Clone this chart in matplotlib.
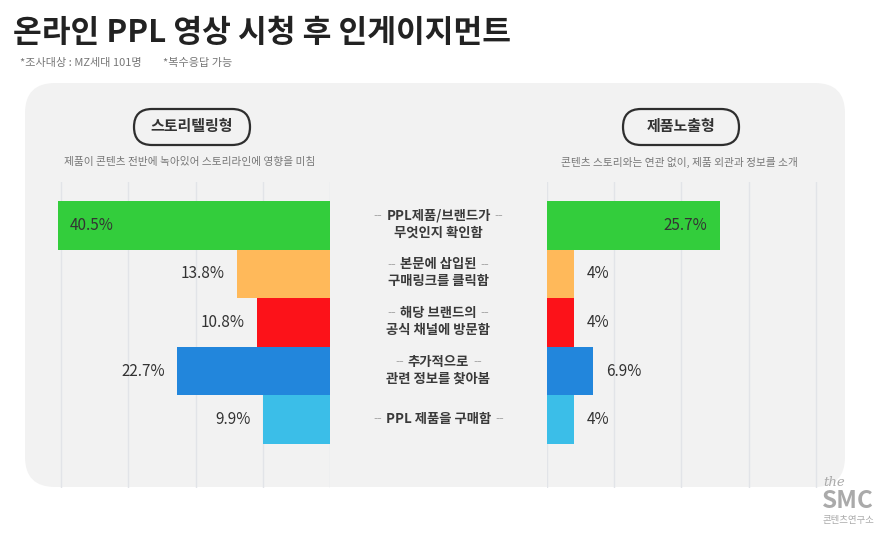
import matplotlib
matplotlib.use("Agg")
import matplotlib.pyplot as plt
from matplotlib.patches import FancyBboxPatch

plt.rcParams['font.family'] = ['Noto Sans CJK KR', 'DejaVu Sans']

# ---- data ----
categories = [
    ("PPL제품/브랜드가", "무엇인지 확인함"),
    ("본문에 삽입된", "구매링크를 클릭함"),
    ("해당 브랜드의", "공식 채널에 방문함"),
    ("추가적으로", "관련 정보를 찾아봄"),
    ("PPL 제품을 구매함",),
]
storytelling = [40.5, 13.8, 10.8, 22.7, 9.9]
exposure = [25.7, 4, 4, 6.9, 4]
value_labels_left = ["40.5%", "13.8%", "10.8%", "22.7%", "9.9%"]
value_labels_right = ["25.7%", "4%", "4%", "6.9%", "4%"]
colors = ["#33cd3c", "#ffb95a", "#fc1219", "#2286dc", "#3bbee8"]
grid_ticks = [0, 10, 20, 30, 40]

title = "온라인 PPL 영상 시청 후 인게이지먼트"
note1 = "*조사대상 : MZ세대 101명"
note2 = "*복수응답 가능"
left_name = "스토리텔링형"
left_desc = "제품이 콘텐츠 전반에 녹아있어 스토리라인에 영향을 미침"
right_name = "제품노출형"
right_desc = "콘텐츠 스토리와는 연관 없이, 제품 외관과 정보를 소개"

W, H = 895, 552
fig = plt.figure(figsize=(W / 100, H / 100), dpi=100)
fig.patch.set_facecolor("white")

# background axes in pixel coordinates
bg = fig.add_axes([0, 0, 1, 1])
bg.set_xlim(0, W)
bg.set_ylim(H, 0)
bg.axis("off")

panel = FancyBboxPatch((25, 83), 820, 404,
                       boxstyle="round,pad=0,rounding_size=30",
                       facecolor="#f2f2f2", edgecolor="none", zorder=0)
bg.add_patch(panel)

bg.text(13, 33, title, fontsize=22.5, fontweight="black", color="#222222",
        ha="left", va="center")
bg.text(20, 63, note1, fontsize=8, color="#777777", ha="left", va="center")
bg.text(163, 63, note2, fontsize=8, color="#777777", ha="left", va="center")

for cx, name, desc in [(192, left_name, left_desc), (681, right_name, right_desc)]:
    pill = FancyBboxPatch((cx - 58, 109), 116, 36,
                          boxstyle="round,pad=0,rounding_size=18",
                          facecolor="#f2f2f2", edgecolor="#2e2e2e",
                          linewidth=1.6, zorder=2)
    bg.add_patch(pill)
    bg.text(cx, 126, name, fontsize=10.8, fontweight="bold", color="#333333",
            ha="center", va="center", zorder=3)
    bg.text(cx - 2, 162, desc, fontsize=7.7, color="#777777",
            ha="center", va="center", zorder=3)

# logo
bg.text(823, 483, "the", fontsize=9.5, fontstyle="italic", family="DejaVu Serif",
        color="#aaaaaa", ha="left", va="center")
bg.text(848, 501, "SMC", fontsize=17.5, fontweight="black", color="#aaaaaa",
        ha="center", va="center")
bg.text(848, 521, "콘텐츠연구소", fontsize=6.8, color="#aaaaaa",
        ha="center", va="center")

# bar axes
scale = 6.725  # px per percent
ylim = (5.405, -0.89)
top_px, bot_px = 182, 488

def make_ax(x0, x1):
    ax = fig.add_axes([x0 / W, 1 - bot_px / H, (x1 - x0) / W, (bot_px - top_px) / H])
    ax.patch.set_alpha(0)
    for s in ax.spines.values():
        s.set_visible(False)
    ax.set_xticks(grid_ticks)
    ax.set_yticks([])
    ax.tick_params(length=0, labelbottom=False)
    ax.grid(axis="x", color="#e2e4e8", linewidth=1)
    ax.set_axisbelow(True)
    ax.set_ylim(*ylim)
    return ax

axL = make_ax(35, 330)
axL.set_xlim((330 - 35) / scale, 0)
axR = make_ax(547, 840)
axR.set_xlim(0, (840 - 547) / scale)

ys = list(range(len(categories)))
axL.barh(ys, storytelling, height=1.0, color=colors, zorder=2)
axR.barh(ys, exposure, height=1.0, color=colors, zorder=2)

off = 9  # points
vfs = 11
for i, (v, lab) in enumerate(zip(storytelling, value_labels_left)):
    inside = v > 30
    axL.annotate(lab, (v, i), xytext=(off if inside else -off, 0),
                 textcoords="offset points",
                 ha="left" if inside else "right", va="center",
                 fontsize=vfs, color="#333333", fontweight="light", zorder=3)
for i, (v, lab) in enumerate(zip(exposure, value_labels_right)):
    inside = v > 20
    axR.annotate(lab, (v, i), xytext=(-off if inside else off, 0),
                 textcoords="offset points",
                 ha="right" if inside else "left", va="center",
                 fontsize=vfs, color="#333333", fontweight="light", zorder=3)

# center labels (pixel coords on bg)
cxc = 438.5
cfs = 9.6
row_h = (bot_px - top_px) / (ylim[0] - ylim[1])
renderer = fig.canvas.get_renderer()
for i, lines in enumerate(categories):
    yc = top_px + (i - ylim[1]) * row_h - 1
    if len(lines) == 2:
        ypos = [yc - 8.5, yc + 8.5]
    else:
        ypos = [yc]
    for j, (line, yy) in enumerate(zip(lines, ypos)):
        t = bg.text(cxc, yy, line, fontsize=cfs, color="#3a3a3a",
                    fontweight="bold", ha="center", va="center", zorder=5)
        if j == 0:
            bb = t.get_window_extent(renderer=renderer)
            bg.text(bb.x0 - 4, yy, "--", fontsize=8.5, color="#aaaaaa",
                    family="DejaVu Sans", ha="right", va="center", zorder=4)
            bg.text(bb.x1 + 4, yy, "--", fontsize=8.5, color="#aaaaaa",
                    family="DejaVu Sans", ha="left", va="center", zorder=4)

fig.savefig("out.png", dpi=100, facecolor="white")
